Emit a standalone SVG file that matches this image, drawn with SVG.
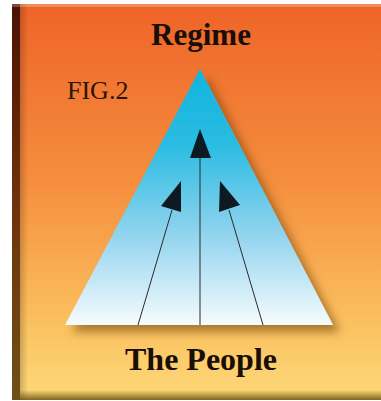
<svg xmlns="http://www.w3.org/2000/svg" width="381" height="401" viewBox="0 0 381 401">
<defs>
<linearGradient id="bg" x1="0" y1="0" x2="0" y2="1">
<stop offset="0" stop-color="#ee6428"/>
<stop offset="0.45" stop-color="#f58e3e"/>
<stop offset="0.8" stop-color="#fbc05e"/>
<stop offset="1" stop-color="#fdd97a"/>
</linearGradient>
<linearGradient id="leftEdge" x1="0" y1="0" x2="0" y2="1">
<stop offset="0" stop-color="#4a1202"/>
<stop offset="0.5" stop-color="#6e320c"/>
<stop offset="1" stop-color="#6e5018"/>
</linearGradient>
<linearGradient id="leftFade" x1="0" y1="0" x2="1" y2="0">
<stop offset="0" stop-color="#000" stop-opacity="0.55"/>
<stop offset="1" stop-color="#000" stop-opacity="0"/>
</linearGradient>
<linearGradient id="botFade" x1="0" y1="0" x2="0" y2="1">
<stop offset="0" stop-color="#6a5010" stop-opacity="0"/>
<stop offset="1" stop-color="#6a5010" stop-opacity="0.85"/>
</linearGradient>
<linearGradient id="tri" x1="0" y1="0" x2="0" y2="1">
<stop offset="0" stop-color="#10b4dc"/>
<stop offset="0.3" stop-color="#2cbce2"/>
<stop offset="0.65" stop-color="#92d4ee"/>
<stop offset="1" stop-color="#f6fbfe"/>
</linearGradient>
<filter id="shadow" x="-20%" y="-20%" width="150%" height="150%">
<feDropShadow dx="7" dy="7" stdDeviation="5" flood-color="#6b3a05" flood-opacity="0.55"/>
</filter>
<style>
.lbl{font-family:"Liberation Serif","DejaVu Serif",serif;fill:#1a0e08;text-anchor:middle;font-weight:bold}
.fig{font-family:"Liberation Serif","DejaVu Serif",serif;fill:#2a1608;font-size:26px}
.ln{stroke:#2a2a2a;stroke-width:1;fill:none}
.head{fill:#0e1a22}
</style>
</defs>
<rect x="0" y="0" width="381" height="401" fill="#ffffff"/>
<rect x="12" y="4" width="369" height="396" fill="url(#bg)"/>
<rect x="12" y="4" width="8" height="396" fill="url(#leftEdge)"/>
<rect x="20" y="4" width="8" height="396" fill="url(#leftFade)" opacity="0.35"/>
<rect x="12" y="390" width="369" height="10" fill="url(#botFade)"/>
<rect x="12" y="4" width="369" height="3" fill="#fff" opacity="0.25"/>

<g id="pyramid">
<polygon points="200,69 333,325 65,325" fill="url(#tri)" filter="url(#shadow)"/>
</g>

<g id="connectors">
<line class="ln" x1="200" y1="325" x2="200" y2="158"/>
<polygon class="head" points="200,129 190,158 211,158"/>
<line class="ln" x1="138" y1="325" x2="172" y2="210"/>
<polygon class="head" points="181,181 161,206 181,212"/>
<line class="ln" x1="263" y1="325" x2="229" y2="210"/>
<polygon class="head" points="220,181 219,212 240,205"/>
</g>

<g id="regime"><text class="lbl" x="201" y="45" font-size="31">Regime</text></g>
<g id="fig"><text class="fig" x="67" y="99">FIG.2</text></g>
<g id="people"><text class="lbl" x="201" y="370" font-size="32">The People</text></g>
</svg>
